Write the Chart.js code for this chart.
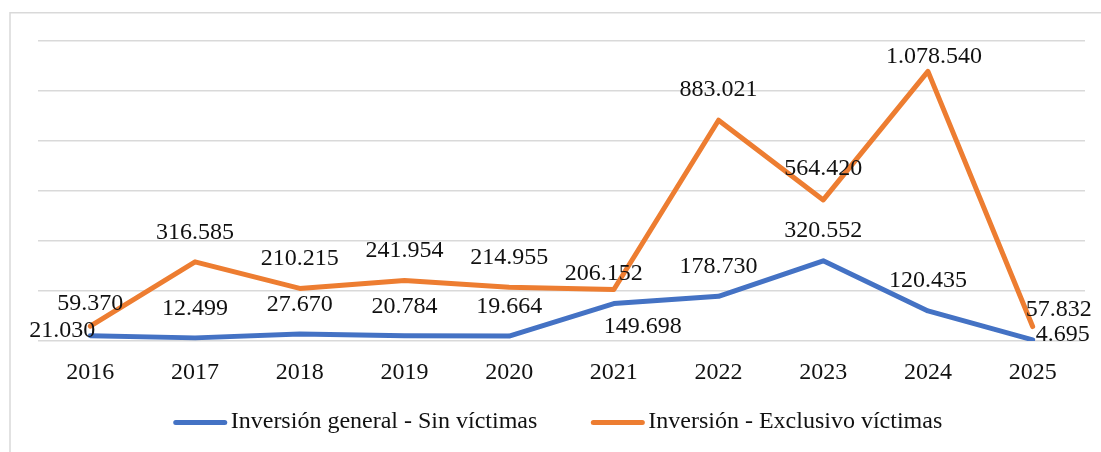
<!DOCTYPE html>
<html>
<head>
<meta charset="utf-8">
<title>Inversión</title>
<script src="https://cdn.jsdelivr.net/npm/chart.js@4"></script>
<style>
  html, body { margin: 0; padding: 0; background: #fff; }
  #wrap { position: relative; width: 1101px; height: 452px; }
</style>
</head>
<body>
<div id="wrap"><canvas id="myChart" width="1101" height="452"></canvas></div>
<script>
// data
var years = ['2016', '2017', '2018', '2019', '2020', '2021', '2022', '2023', '2024', '2025'];
var sinVictimas = [21030, 12499, 27670, 20784, 19664, 149698, 178730, 320552, 120435, 4695];
var exclusivoVictimas = [59370, 316585, 210215, 241954, 214955, 206152, 883021, 564420, 1078540, 57832];
var seriesNames = ['Inversión general - Sin víctimas', 'Inversión - Exclusivo víctimas'];
var yMax = 1200000;
var yStep = 200000;

var FONT = "'Liberation Serif', 'Times New Roman', serif";
var FSIZE = 24;
var BLUE = '#4472C4';
var ORANGE = '#ED7D31';

// label nudges (dx, dy from the point to the label centre), like Excel placed them
var labelShift = [
  [[-28, -5], [0, -29], [0, -29], [0, -29], [0, -29], [29, 23], [0, -30], [0, -30], [0, -30], [30, -5]],
  [[0, -22], [0, -29], [0, -30], [0, -30], [0, -30], [-10, -16], [0, -31], [0, -31], [6, -15], [26, -17]]
];

function fmt(v) {
  return String(v).replace(/\B(?=(\d{3})+(?!\d))/g, '.');
}

var frame = {
  id: 'frame',
  beforeDraw: function(chart) {
    var c = chart.ctx;
    c.save();
    c.strokeStyle = '#D9D9D9';
    c.lineWidth = 1.5;
    c.beginPath();
    c.moveTo(10, chart.height);
    c.lineTo(10, 12.75);
    c.lineTo(chart.width, 12.75);
    c.stroke();
    c.restore();
  }
};

var valueLabels = {
  id: 'valueLabels',
  afterDatasetsDraw: function(chart) {
    var c = chart.ctx;
    c.save();
    c.font = FSIZE + 'px ' + FONT;
    c.fillStyle = '#111';
    c.textAlign = 'center';
    c.textBaseline = 'middle';
    chart.data.datasets.forEach(function(ds, i) {
      var meta = chart.getDatasetMeta(i);
      meta.data.forEach(function(pt, j) {
        var s = labelShift[i][j];
        c.fillText(fmt(ds.data[j]), pt.x + s[0], pt.y + s[1]);
      });
    });
    c.restore();
  }
};

var bottomLegend = {
  id: 'bottomLegend',
  afterDraw: function(chart) {
    var c = chart.ctx;
    var y = 422.5, lineLen = 53, gap = 4, spacing = 54;
    c.save();
    c.font = FSIZE + 'px ' + FONT;
    var items = chart.data.datasets.map(function(ds) {
      return { text: ds.label, color: ds.borderColor, w: c.measureText(ds.label).width };
    });
    var total = 0;
    items.forEach(function(it, k) { total += lineLen + gap + it.w + (k ? spacing : 0); });
    var x = 558 - total / 2;
    items.forEach(function(it) {
      c.strokeStyle = it.color;
      c.lineWidth = 5;
      c.lineCap = 'round';
      c.beginPath();
      c.moveTo(x + 2, y);
      c.lineTo(x + lineLen - 2, y);
      c.stroke();
      c.fillStyle = '#111';
      c.textAlign = 'left';
      c.textBaseline = 'middle';
      c.fillText(it.text, x + lineLen + gap, y - 1);
      x += lineLen + gap + it.w + spacing;
    });
    c.restore();
  }
};

Chart.defaults.font.family = FONT;
Chart.defaults.font.size = FSIZE;
Chart.defaults.color = '#111';

var ctx = document.getElementById('myChart').getContext('2d');
var myChart = new Chart(ctx, {
  type: 'line',
  data: {
    labels: years,
    datasets: [{
      label: seriesNames[0],
      data: sinVictimas,
      borderColor: BLUE,
      backgroundColor: BLUE,
      borderWidth: 5,
      borderCapStyle: 'round',
      borderJoinStyle: 'round',
      pointRadius: 0,
      tension: 0,
      order: 1
    }, {
      label: seriesNames[1],
      data: exclusivoVictimas,
      borderColor: ORANGE,
      backgroundColor: ORANGE,
      borderWidth: 5,
      borderCapStyle: 'round',
      borderJoinStyle: 'round',
      pointRadius: 0,
      tension: 0,
      order: 0
    }]
  },
  options: {
    responsive: false,
    animation: false,
    layout: { padding: { left: 38, right: 16, top: 41, bottom: 61 } },
    plugins: {
      legend: { display: false },
      tooltip: { enabled: false }
    },
    scales: {
      x: {
        offset: true,
        grid: { display: false, drawTicks: false },
        border: { display: false },
        ticks: { padding: 17, color: '#111', font: { size: FSIZE } },
        afterFit: function(scale) { scale.height = 50; }
      },
      y: {
        min: 0,
        max: yMax,
        ticks: { display: false, stepSize: yStep },
        grid: { color: '#D9D9D9', lineWidth: 1.5, drawTicks: false },
        border: { display: false }
      }
    }
  },
  plugins: [frame, valueLabels, bottomLegend]
});
</script>
</body>
</html>
